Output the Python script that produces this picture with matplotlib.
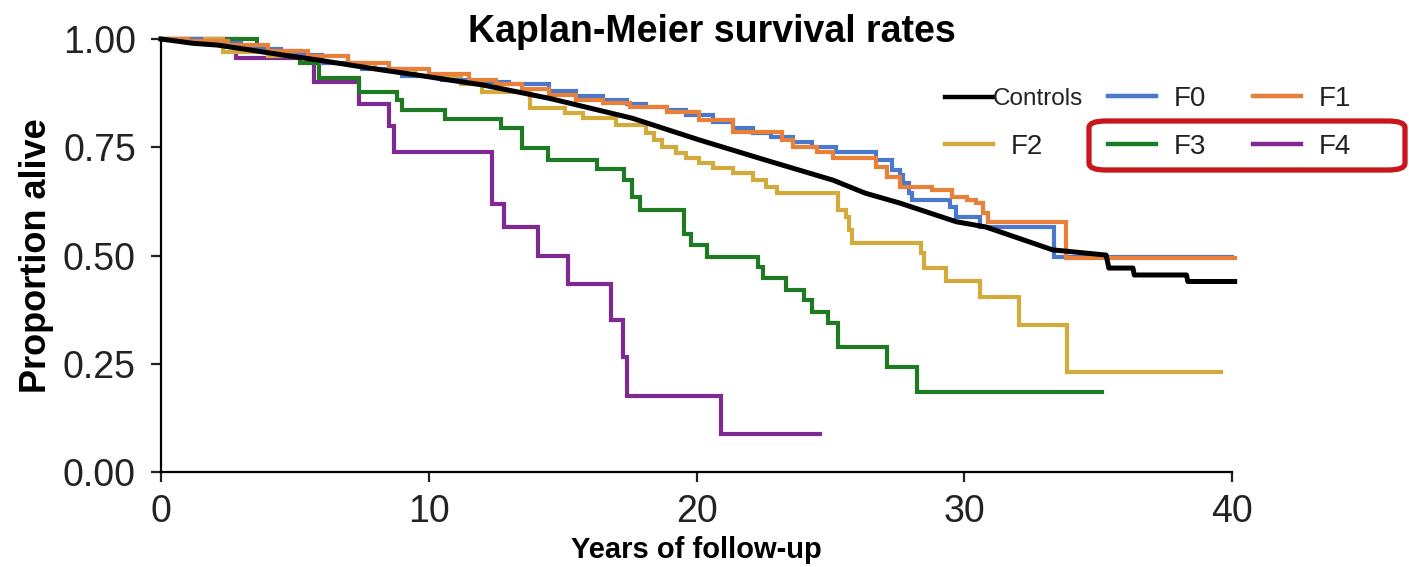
import matplotlib
matplotlib.use("Agg")
import matplotlib.pyplot as plt
from matplotlib.lines import Line2D
from matplotlib.patches import FancyBboxPatch

plt.rcParams['font.family'] = ['Liberation Sans', 'DejaVu Sans']

# Controls (large group, nearly smooth curve)
ctrl_t = [0, 1.2, 2.1, 3.3, 4.55, 5.8, 7.05, 8.3, 9.55, 10.8, 12.0, 13.3, 14.5, 17.6,
          20.1, 22.6, 25.1, 26.3, 27.6, 29.7, 30.8, 33.3, 35.3, 35.4, 36.3, 36.35,
          38.3, 38.35, 40.1]
ctrl_s = [1.0, 0.99, 0.986, 0.975, 0.963, 0.952, 0.94, 0.928, 0.917, 0.905, 0.894,
          0.878, 0.863, 0.817, 0.767, 0.72, 0.674, 0.644, 0.621, 0.578, 0.566, 0.513,
          0.501, 0.471, 0.471, 0.455, 0.455, 0.44, 0.44]

# step curves: event times, survival after each event, last follow-up time
f0_t = [0, 1.5, 3.0, 4.5, 6.0, 7.5, 9.0, 10.5, 11.5, 13.0, 14.5, 15.5, 16.5, 17.4,
        18.1, 18.9, 19.6, 20.6, 21.35, 22.1, 22.8, 23.6, 24.3, 25.2, 26.7, 27.3,
        27.6, 27.7, 27.95, 28.06, 29.45, 29.7, 30.6, 33.35]
f0_s = [1.0, 0.99, 0.978, 0.962, 0.945, 0.93, 0.915, 0.905, 0.9, 0.895, 0.88, 0.868,
        0.858, 0.851, 0.844, 0.836, 0.824, 0.809, 0.794, 0.782, 0.774, 0.763, 0.751,
        0.74, 0.72, 0.697, 0.686, 0.667, 0.644, 0.628, 0.613, 0.59, 0.566, 0.497]
f0_end = 40.0

f1_t = [0, 1.0, 2.5, 4.0, 5.5, 7.0, 8.5, 10.0, 11.5, 12.5, 13.5, 14.5, 15.5, 16.5,
        17.5, 18.9, 20.1, 21.35, 23.2, 23.6, 24.5, 25.1, 26.7, 27.1, 27.6, 28.8,
        29.55, 30.1, 30.45, 30.7, 30.9, 33.8]
f1_s = [1.0, 0.995, 0.985, 0.972, 0.96, 0.945, 0.93, 0.92, 0.905, 0.895, 0.885, 0.87,
        0.86, 0.852, 0.843, 0.832, 0.813, 0.786, 0.767, 0.751, 0.74, 0.725, 0.705,
        0.682, 0.659, 0.651, 0.636, 0.628, 0.621, 0.598, 0.578, 0.494]
f1_end = 40.1

f2_t = [0, 2.3, 4.0, 6.0, 8.0, 9.5, 11.2, 12.0, 13.8, 15.1, 15.75, 17.0, 18.1, 18.4,
        18.7, 19.25, 19.6, 20.1, 20.6, 21.35, 22.1, 22.6, 23.0, 25.3, 25.6, 25.7,
        25.8, 28.4, 28.5, 29.3, 30.6, 32.05, 33.85]
f2_s = [1.0, 0.97, 0.96, 0.945, 0.93, 0.915, 0.895, 0.878, 0.84, 0.829, 0.817, 0.801,
        0.783, 0.767, 0.751, 0.737, 0.725, 0.713, 0.702, 0.69, 0.674, 0.658, 0.644,
        0.605, 0.59, 0.559, 0.53, 0.505, 0.471, 0.44, 0.405, 0.34, 0.232]
f2_end = 39.6

f3_t = [0, 3.6, 5.2, 5.9, 7.4, 8.8, 9.0, 10.6, 12.7, 13.5, 14.45, 16.3, 17.3, 17.6,
        17.9, 19.55, 19.8, 20.4, 22.3, 22.5, 23.35, 24.0, 24.3, 24.9, 25.3, 27.1, 28.25]
f3_s = [1.0, 0.972, 0.945, 0.91, 0.878, 0.86, 0.836, 0.815, 0.795, 0.748, 0.72, 0.70,
        0.674, 0.635, 0.605, 0.55, 0.524, 0.497, 0.474, 0.448, 0.42, 0.397, 0.37,
        0.344, 0.289, 0.242, 0.185]
f3_end = 35.15

f4_t = [0, 2.8, 5.7, 7.4, 8.5, 8.7, 12.35, 12.8, 14.07, 15.2, 16.8, 17.25, 17.4, 20.9]
f4_s = [1.0, 0.956, 0.90, 0.85, 0.80, 0.74, 0.62, 0.566, 0.50, 0.435, 0.35, 0.265,
        0.175, 0.088]
f4_end = 24.6

labels = ['Controls', 'F0', 'F1', 'F2', 'F3', 'F4']
colors = ['black', '#4a78cc', '#e8803a', '#d2ab3c', '#1f7a24', '#7e2a92']

fig = plt.figure(figsize=(14.09, 5.67), dpi=100)
ax = fig.add_axes([161 / 1409, 1 - 472 / 567, (1232 - 161) / 1409, (472 - 39) / 567])

steps = [(f4_t, f4_s, f4_end, 5), (f3_t, f3_s, f3_end, 4), (f2_t, f2_s, f2_end, 3),
         (f0_t, f0_s, f0_end, 1), (f1_t, f1_s, f1_end, 2)]
for t, s, end, k in steps:
    ax.step(t + [end], s + [s[-1]], where='post', color=colors[k], lw=3.0,
            clip_on=False, solid_joinstyle='miter')
ax.plot(ctrl_t, ctrl_s, color=colors[0], lw=3.6, clip_on=False)

ax.set_xlim(0, 40)
ax.set_ylim(0, 1.0)
ax.set_xticks([0, 10, 20, 30, 40])
ax.set_yticks([0, 0.25, 0.5, 0.75, 1.0])
ax.set_yticklabels(['0.00', '0.25', '0.50', '0.75', '1.00'])
for side in ['top', 'right']:
    ax.spines[side].set_visible(False)
for side in ['left', 'bottom']:
    ax.spines[side].set_linewidth(1.6)
ax.tick_params(axis='y', length=7, width=1.6, labelsize=27, pad=11, colors='#222222')
ax.tick_params(axis='x', length=7, width=1.6, labelsize=27, pad=9, colors='#222222')

ax.set_ylabel('Proportion alive', fontsize=26, fontweight='bold')
ax.yaxis.set_label_coords(-0.1, 0.5)
ax.set_xlabel('Years of follow-up', fontsize=21, fontweight='bold')
ax.xaxis.set_label_coords(0.5, -0.148)
fig.text(712 / 1409, 1 - 32 / 567, 'Kaplan-Meier survival rates', fontsize=27,
         fontweight='bold', ha='center', va='center')

# legend: one small legend per entry so each sits where it does in the figure
leg_pos = [(945, 98), (1108, 98), (1253, 98), (945, 146), (1108, 146), (1253, 146)]
for i, (px, py) in enumerate(leg_pos):
    fs = 17.5 if i == 0 else 20
    pad = 0.0 if i == 0 else 0.65
    hl = 48 / (fs * 100 / 72)
    leg = fig.legend([Line2D([], [], color=colors[i], lw=3.2)], [labels[i]],
                     frameon=False, loc='center left',
                     bbox_to_anchor=(px / 1409, 1 - (py + 1) / 567), fontsize=fs,
                     handlelength=hl, handletextpad=pad, borderpad=0,
                     borderaxespad=0)
    leg.get_texts()[0].set_color('#222222')

box = FancyBboxPatch((1089 / 1409, 1 - 170 / 567), (1405 - 1089) / 1409, 49 / 567,
                     boxstyle='round,pad=0,rounding_size=0.012',
                     transform=fig.transFigure, facecolor='none',
                     edgecolor='#c8161d', lw=3.8, clip_on=False)
fig.patches.append(box)

fig.savefig('out.png', dpi=100)
